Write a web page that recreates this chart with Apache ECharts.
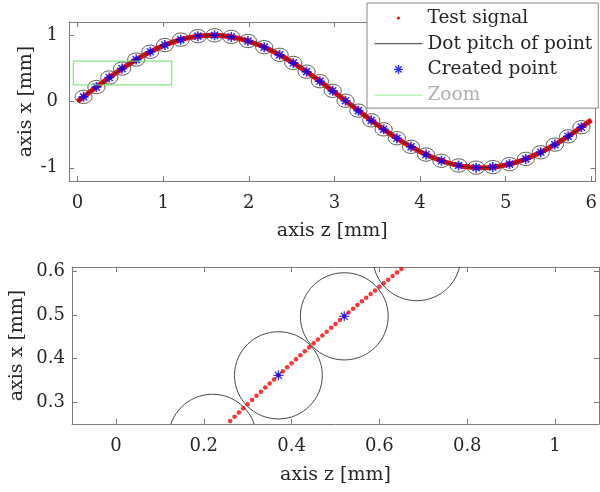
<!DOCTYPE html>
<html><head><meta charset="utf-8">
<script src="https://cdn.jsdelivr.net/npm/echarts@6/dist/echarts.min.js"></script>
<style>html,body{margin:0;padding:0;background:#fff}#c{width:600px;height:492px}</style>
</head><body><div id="c"></div>
<script>
// Test signal (overview, sampled every 0.1 mm)
const signalZ = [0,0.1,0.2,0.3,0.4,0.5,0.6,0.7,0.8,0.9,1.0,1.1,1.2,1.3,1.4,1.5,1.6,1.7,1.8,1.9,2.0,2.1,2.2,2.3,2.4,2.5,2.6,2.7,2.8,2.9,3.0,3.1,3.2,3.3,3.4,3.5,3.6,3.7,3.8,3.9,4.0,4.1,4.2,4.3,4.4,4.5,4.6,4.7,4.8,4.9,5.0,5.1,5.2,5.3,5.4,5.5,5.6,5.7,5.8,5.9,6.0];
const signalX = [0,0.0998,0.1987,0.2955,0.3894,0.4794,0.5646,0.6442,0.7174,0.7833,0.8415,0.8912,0.9320,0.9636,0.9854,0.9975,0.9996,0.9917,0.9738,0.9463,0.9093,0.8632,0.8085,0.7457,0.6755,0.5985,0.5155,0.4274,0.3350,0.2392,0.1411,0.0416,-0.0584,-0.1577,-0.2555,-0.3508,-0.4425,-0.5298,-0.6119,-0.6878,-0.7568,-0.8183,-0.8716,-0.9162,-0.9516,-0.9775,-0.9937,-0.9999,-0.9962,-0.9825,-0.9589,-0.9258,-0.8835,-0.8323,-0.7728,-0.7055,-0.6313,-0.5507,-0.4646,-0.3739,-0.2794];
// Test signal samples visible in the zoom window (every 0.01 mm)
const zoomSignalZ = [0.25,0.26,0.27,0.28,0.29,0.30,0.31,0.32,0.33,0.34,0.35,0.36,0.37,0.38,0.39,0.40,0.41,0.42,0.43,0.44,0.45,0.46,0.47,0.48,0.49,0.50,0.51,0.52,0.53,0.54,0.55,0.56,0.57,0.58,0.59,0.60,0.61,0.62,0.63,0.64,0.65,0.66];
const zoomSignalX = [0.2474,0.2571,0.2667,0.2764,0.2860,0.2955,0.3051,0.3146,0.3240,0.3335,0.3429,0.3523,0.3616,0.3709,0.3802,0.3894,0.3986,0.4078,0.4169,0.4259,0.4350,0.4439,0.4529,0.4618,0.4706,0.4794,0.4882,0.4969,0.5055,0.5141,0.5227,0.5312,0.5396,0.5480,0.5564,0.5646,0.5729,0.5810,0.5891,0.5972,0.6052,0.6131];
// Created points
const pointZ = [0.07,0.22,0.37,0.52,0.685,0.85,1.02,1.205,1.405,1.6,1.795,1.99,2.18,2.36,2.52,2.675,2.83,2.98,3.13,3.28,3.43,3.575,3.73,3.895,4.07,4.25,4.45,4.655,4.85,5.045,5.235,5.41,5.575,5.73,5.885];
const pointX = [0.0699,0.2182,0.3616,0.4969,0.6327,0.7513,0.8521,0.9338,0.9863,0.9996,0.9749,0.9135,0.8201,0.7045,0.5824,0.4499,0.3065,0.1609,0.0116,-0.1380,-0.2844,-0.4200,-0.5550,-0.6841,-0.8007,-0.8950,-0.9658,-0.9984,-0.9905,-0.9452,-0.8665,-0.7664,-0.6505,-0.5254,-0.3878];
const dotRadius = 0.1; // half of dot pitch
// Zoom rectangle
const zoomBoxZ = [-0.05,1.1,1.1,-0.05,-0.05];
const zoomBoxX = [0.25,0.25,0.61,0.61,0.25];
// Ticks
const topXTicks = [0,1,2,3,4,5,6];
const topYTicks = [-1,0,1];
const bottomXTicks = [0,0.2,0.4,0.6,0.8,1];
const bottomYTicks = [0.3,0.4,0.5,0.6];

const FONT = 'DejaVu Serif';
const AX = '#7a7a7a';
const TXT = '#262626';
const zip = (a, b) => a.map((v, i) => [v, b[i]]);
const asterisk = 'path://M0,-1 L0,1 M-1,0 L1,0 M-0.707,-0.707 L0.707,0.707 M-0.707,0.707 L0.707,-0.707';

function xAx(grid, min, max, ticks, main, name, margin, gap) {
  return {
    type: 'value', gridIndex: grid, min: min, max: max, position: main ? 'bottom' : 'top',
    axisLine: {show: true, onZero: false, lineStyle: {color: AX, width: 1}},
    axisTick: {show: true, inside: true, length: 5, customValues: ticks, lineStyle: {color: AX}},
    axisLabel: main ? {show: true, customValues: ticks, fontFamily: FONT, fontSize: 18, color: TXT, margin: margin} : {show: false},
    splitLine: {show: false},
    name: main ? name : '', nameLocation: 'middle', nameGap: gap,
    nameTextStyle: {fontFamily: FONT, fontSize: 19, color: TXT}
  };
}
function yAx(grid, min, max, ticks, main, gap, margin) {
  return {
    type: 'value', gridIndex: grid, min: min, max: max, position: main ? 'left' : 'right',
    axisLine: {show: true, onZero: false, lineStyle: {color: AX, width: 1}},
    axisTick: {show: true, inside: true, length: 5, customValues: ticks, lineStyle: {color: AX}},
    axisLabel: main ? {show: true, customValues: ticks, fontFamily: FONT, fontSize: 18, color: TXT, margin: margin} : {show: false},
    splitLine: {show: false},
    name: main ? 'axis x [mm]' : '', nameLocation: 'middle', nameGap: gap, nameRotate: 90,
    nameMoveOverlap: false,
    nameTextStyle: {fontFamily: FONT, fontSize: 19, color: TXT}
  };
}
function circles(xi, yi, z, x, col) {
  return {
    type: 'custom', name: 'Dot pitch of point', xAxisIndex: xi, yAxisIndex: yi, clip: true, z: 3,
    data: zip(z, x),
    renderItem: function (params, api) {
      const c = api.coord([api.value(0), api.value(1)]);
      const s = api.size([dotRadius, dotRadius]);
      return {type: 'ellipse', shape: {cx: c[0], cy: c[1], rx: s[0], ry: s[1]},
        style: {fill: 'none', stroke: col, lineWidth: 0.9}};
    }
  };
}

const chart = echarts.init(document.getElementById('c'), null, {renderer: 'canvas'});
chart.setOption({
  animation: false,
  backgroundColor: '#fff',
  grid: [
    {left: 69, right: 1, top: 22, height: 159},
    {left: 69, right: 1, top: 267, height: 157}
  ],
  xAxis: [
    xAx(0, -0.1, 6.05, topXTicks, true, 'axis z [mm]', 13, 41),
    xAx(0, -0.1, 6.05, topXTicks, false),
    xAx(1, -0.1, 1.1, bottomXTicks, true, 'axis z [mm]', 13, 42),
    xAx(1, -0.1, 1.1, bottomXTicks, false)
  ],
  yAxis: [
    yAx(0, -1.2, 1.2, topYTicks, true, 33, 11),
    yAx(0, -1.2, 1.2, topYTicks, false),
    yAx(1, 0.25, 0.61, bottomYTicks, true, 45, 7),
    yAx(1, 0.25, 0.61, bottomYTicks, false)
  ],
  legend: {
    orient: 'vertical', left: 367, top: 3, padding: [5, 6, 3, 5],
    itemWidth: 48, itemHeight: 14, itemGap: 5.7,
    backgroundColor: '#fff', borderColor: '#888', borderWidth: 1, borderRadius: 0,
    selectedMode: false, z: 10,
    textStyle: {fontFamily: FONT, fontSize: 18.5, color: TXT, lineHeight: 20},
    data: [
      {name: 'Test signal', icon: 'path://M0,0 M48,14 M22.5,7 A1.5,1.5 0 1 1 25.5,7 A1.5,1.5 0 1 1 22.5,7 Z',
        itemStyle: {color: '#ff0000', borderWidth: 0}},
      {name: 'Dot pitch of point', icon: 'path://M0,0 M48,14 M0,7 L48,7',
        itemStyle: {color: 'none', borderColor: '#333', borderWidth: 1}},
      {name: 'Created point', icon: 'path://M0,0 M48,14 M24,2.5 L24,11.5 M19.5,7 L28.5,7 M20.8,3.8 L27.2,10.2 M20.8,10.2 L27.2,3.8',
        itemStyle: {color: 'none', borderColor: '#0000ff', borderWidth: 1.4}},
      {name: 'Zoom', icon: 'path://M0,0 M48,14 M0,7 L48,7',
        itemStyle: {color: 'none', borderColor: '#90ee90', borderWidth: 1}, textStyle: {color: '#b0b0b0'}}
    ]
  },
  series: [
    {type: 'line', name: 'Test signal', xAxisIndex: 0, yAxisIndex: 0, data: zip(signalZ, signalX),
      showSymbol: false, lineStyle: {color: '#ff0000', width: 5}, itemStyle: {color: '#ff0000'}, z: 2},
    {type: 'line', name: 'Test signal core', xAxisIndex: 0, yAxisIndex: 0, data: zip(signalZ, signalX),
      showSymbol: false, lineStyle: {color: '#6a0000', width: 0.8}, z: 2},
    circles(0, 0, pointZ, pointX, '#444'),
    {type: 'scatter', name: 'Created point', xAxisIndex: 0, yAxisIndex: 0, data: zip(pointZ, pointX),
      symbol: asterisk, symbolSize: 10, itemStyle: {color: '#0000ff', borderColor: '#0000ff', borderWidth: 1.6}, z: 4},
    {type: 'line', name: 'Zoom', xAxisIndex: 0, yAxisIndex: 0, data: zip(zoomBoxZ, zoomBoxX),
      showSymbol: false, lineStyle: {color: '#66e066', width: 1}, itemStyle: {color: '#66e066'}, z: 5},
    {type: 'scatter', name: 'Test signal', xAxisIndex: 2, yAxisIndex: 2, data: zip(zoomSignalZ, zoomSignalX),
      symbol: 'circle', symbolSize: 4.5, itemStyle: {color: '#ff0000'}, clip: true, z: 2},
    circles(2, 2, pointZ, pointX, '#333'),
    {type: 'scatter', name: 'Created point', xAxisIndex: 2, yAxisIndex: 2, data: zip(pointZ, pointX),
      symbol: asterisk, symbolSize: 10, clip: true, itemStyle: {color: '#0000ff', borderColor: '#0000ff', borderWidth: 1.3}, z: 4}
  ]
});
</script></body></html>
